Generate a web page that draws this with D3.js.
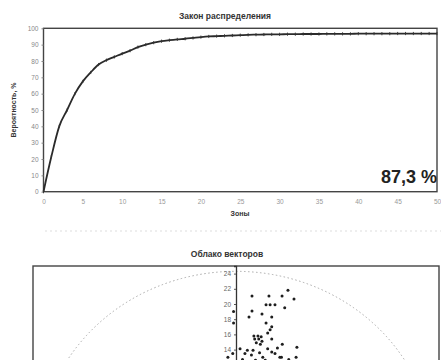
<!DOCTYPE html>
<html><head><meta charset="utf-8">
<script src="https://cdn.jsdelivr.net/npm/d3@7"></script>
<style>body{margin:0;background:#fff}svg{display:block}text{font-family:"Liberation Sans",Arial,sans-serif}</style>
</head><body><svg id="c" width="441" height="360"></svg>
<script>
// ---- Data: distribution law (Закон распределения)
const zones = d3.range(0, 51);
const probability = [0,21.5,40,50,60,67.5,73,77.8,80.5,82.5,84.5,86.3,88.5,90,91.2,92.1,92.7,93.2,93.6,94.1,
  94.6,95,95.2,95.4,95.6,95.8,96,96.1,96.2,96.3,96.3,96.4,96.4,96.5,96.5,96.5,96.6,96.6,96.6,96.6,
  96.7,96.7,96.7,96.7,96.7,96.8,96.8,96.8,96.8,96.8,96.8];
const xTicksTop = [0,5,10,15,20,25,30,35,40,45,50];
const yTicksTop = [0,10,20,30,40,50,60,70,80,90,100];
const resultLabel = "87,3 %";
// ---- Data: vector cloud (Облако векторов)
const vecX = [1.97,4.06,5.67,6.4,7.14,1.97,1.6,3.7,4.2,4.8,6.0,3.2,4.4,3.7,4.4,4.2,3.9,2.2,2.7,3.1,2.3,2.8,3.2,2.5,3.0,4.4,5.7,7.5,-0.3,-0.3,0.5,1.4,1.9,2.9,3.9,4.4,5.1,5.6,7.4,1.1,2.1,3.3,4.8,5.4,-1.0,-0.4,0.8,2.4,3.6,6.5];
const vecY = [21.05,21.05,21.05,21.8,20.66,19.08,18.3,19.9,19.9,19.9,19.5,18.7,18.3,17.5,17.0,16.6,16.2,15.8,15.8,15.7,15.4,15.4,15.1,14.9,14.7,15.4,14.7,14.3,19.0,17.5,14.1,13.9,13.3,13.6,14.1,13.7,14.2,13.0,13.0,13.5,13.9,13.0,13.5,13.0,13.0,13.5,12.7,12.6,12.6,12.7];
const yTicksBottom = [14,16,18,20,22,24];
const circleRadius = 24.3;

const svg = d3.select("#c");

// ===== Top chart
const x1 = d3.scaleLinear().domain([0,50]).range([43.5,437]);
const y1 = d3.scaleLinear().domain([0,100]).range([191.7,28.3]);

svg.append("text").attr("x",225).attr("y",19).attr("text-anchor","middle")
  .attr("font-size",8.5).attr("font-weight","bold").attr("fill","#333").text("Закон распределения");

svg.append("rect").attr("x",x1(0)).attr("y",y1(100)).attr("width",x1(50)-x1(0)).attr("height",y1(0)-y1(100))
  .attr("fill","none").attr("stroke","#444").attr("stroke-width",1.4);

const gy1 = svg.append("g").attr("transform",`translate(${x1(0)},0)`)
  .call(d3.axisLeft(y1).tickValues(yTicksTop).tickSize(2).tickPadding(3));
gy1.select(".domain").remove();
gy1.selectAll("text").attr("font-size",6.5).attr("fill","#888").attr("font-family","Liberation Sans, Arial");
gy1.selectAll("line").attr("stroke","#888");

const gx1 = svg.append("g").attr("transform",`translate(0,${y1(0)})`)
  .call(d3.axisBottom(x1).tickValues(xTicksTop).tickSize(0).tickPadding(8));
gx1.select(".domain").remove();
gx1.selectAll("text").attr("font-size",6.5).attr("fill","#999").attr("font-family","Liberation Sans, Arial");

svg.append("text").attr("transform","translate(16,110) rotate(-90)").attr("text-anchor","middle")
  .attr("font-size",7).attr("font-weight","bold").attr("fill","#333").text("Вероятность, %");
svg.append("text").attr("x",240).attr("y",216).attr("text-anchor","middle")
  .attr("font-size",7).attr("font-weight","bold").attr("fill","#333").text("Зоны");

const line = d3.line().x((d,i)=>x1(zones[i])).y(d=>y1(d)).curve(d3.curveMonotoneX);
svg.append("path").datum(probability).attr("d",line).attr("fill","none")
  .attr("stroke","#2a2a2a").attr("stroke-width",1.8);
svg.append("g").selectAll("line").data(probability).join("line")
  .attr("x1",(d,i)=>x1(zones[i])).attr("x2",(d,i)=>x1(zones[i]))
  .attr("y1",d=>y1(d)-1.6).attr("y2",d=>y1(d)+1.6)
  .attr("stroke","#333").attr("stroke-width",0.9);

svg.append("text").attr("x",437).attr("y",183).attr("text-anchor","end")
  .attr("font-family","DejaVu Sans, sans-serif").attr("font-size",18).attr("font-weight","bold")
  .attr("fill","#222").text(resultLabel);

// faint scan line between charts
svg.append("line").attr("x1",45).attr("x2",441).attr("y1",231).attr("y2",231)
  .attr("stroke","#d4d4d4").attr("stroke-width",0.8).attr("stroke-dasharray","2,3");

// ===== Bottom chart
const x2 = d3.scaleLinear().domain([-25,25]).range([33,439]);
const y2 = d3.scaleLinear().domain([-25,25]).range([646,266]);

svg.append("text").attr("x",227).attr("y",257).attr("text-anchor","middle")
  .attr("font-size",8.5).attr("font-weight","bold").attr("fill","#333").text("Облако векторов");

svg.append("rect").attr("x",x2(-25)).attr("y",y2(25)).attr("width",x2(25)-x2(-25)).attr("height",y2(-25)-y2(25))
  .attr("fill","none").attr("stroke","#444").attr("stroke-width",1.4);

svg.append("ellipse").attr("cx",x2(0)).attr("cy",y2(0))
  .attr("rx",x2(circleRadius)-x2(0)).attr("ry",y2(0)-y2(circleRadius))
  .attr("fill","none").attr("stroke","#aaa").attr("stroke-width",1).attr("stroke-dasharray","1.5,2.5");

const gy2 = svg.append("g").attr("transform",`translate(${x2(0)},0)`)
  .call(d3.axisLeft(y2).tickValues(yTicksBottom).tickSize(2).tickPadding(3));
gy2.select(".domain").attr("stroke","#333").attr("stroke-width",1.3);
gy2.selectAll("text").attr("font-size",6.5).attr("fill","#666").attr("font-family","Liberation Sans, Arial");
gy2.selectAll("line").attr("stroke","#555");

svg.append("line").attr("x1",x2(-25)).attr("x2",x2(25)).attr("y1",y2(0)).attr("y2",y2(0)).attr("stroke","#333");

svg.append("g").selectAll("circle").data(vecX).join("circle")
  .attr("cx",(d)=>x2(d)).attr("cy",(d,i)=>y2(vecY[i])).attr("r",1.5)
  .attr("fill","#1e1e1e");
</script></body></html>
